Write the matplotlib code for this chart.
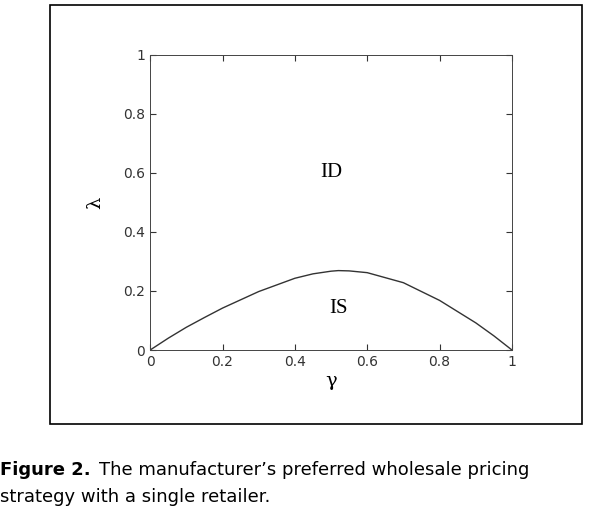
import matplotlib.pyplot as plt
from matplotlib.patches import Rectangle

# boundary curve
gamma = [0.0, 0.05, 0.1, 0.15, 0.2, 0.3, 0.4, 0.45, 0.5, 0.52, 0.55, 0.6, 0.7, 0.8, 0.9, 0.95, 1.0]
lam = [0.0, 0.04, 0.077, 0.11, 0.142, 0.198, 0.243, 0.258, 0.267, 0.269, 0.268, 0.262, 0.228, 0.168, 0.092, 0.048, 0.0]

ticks = [0, 0.2, 0.4, 0.6, 0.8, 1]
tick_labels = ['0', '0.2', '0.4', '0.6', '0.8', '1']

fig = plt.figure(figsize=(6.03, 5.17), dpi=100)

# outer frame around the figure panel
fig.patches.append(Rectangle((0.083, 0.18), 0.882, 0.81, transform=fig.transFigure,
                             fill=False, edgecolor='black', linewidth=1.2))

ax = fig.add_axes([0.249, 0.323, 0.6, 0.571])
ax.plot(gamma, lam, color='#333333', linewidth=1.0)
ax.set_xlim(0, 1)
ax.set_ylim(0, 1)
ax.set_xticks(ticks)
ax.set_xticklabels(tick_labels)
ax.set_yticks(ticks)
ax.set_yticklabels(tick_labels)
ax.tick_params(direction='in', top=True, right=True, labelsize=10, length=4, colors='#333333')
for s in ax.spines.values():
    s.set_color('#444444')
    s.set_linewidth(0.7)

ax.set_xlabel('γ', fontsize=14, family='DejaVu Serif', labelpad=2)
ax.set_ylabel('λ', fontsize=14, family='DejaVu Serif', labelpad=14)

ax.text(0.5, 0.6, 'ID', fontsize=15, family='Liberation Serif', ha='center', va='center')
ax.text(0.52, 0.14, 'IS', fontsize=15, family='Liberation Serif', ha='center', va='center')

fig.text(0.0, 0.091, 'Figure 2.', fontsize=13, fontweight='bold', va='center')
fig.text(0.165, 0.091, 'The manufacturer\u2019s preferred wholesale pricing', fontsize=13, va='center')
fig.text(0.0, 0.039, 'strategy with a single retailer.', fontsize=13, va='center')

fig.savefig('out.png', dpi=100)
